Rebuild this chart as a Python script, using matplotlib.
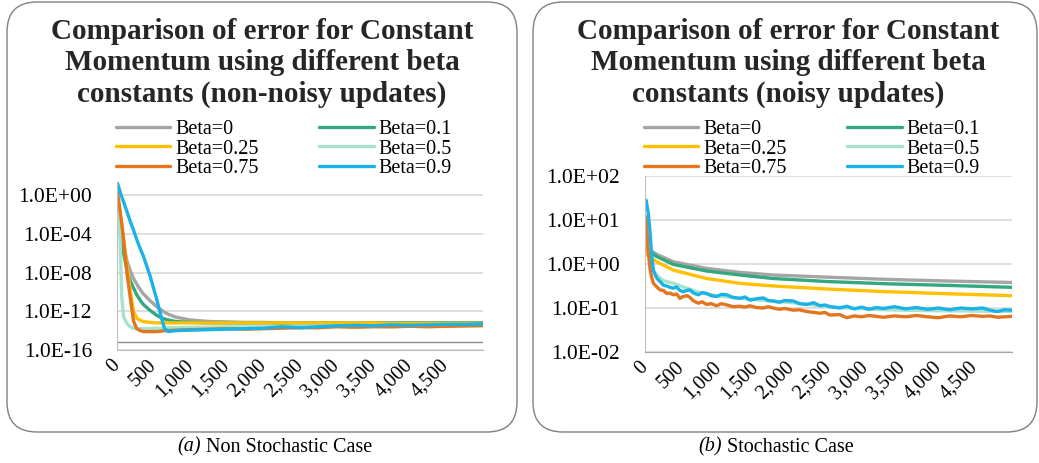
import numpy as np
import matplotlib
matplotlib.use("Agg")
import matplotlib.pyplot as plt
from matplotlib.patches import FancyBboxPatch
from matplotlib.transforms import IdentityTransform

plt.rcParams["font.family"] = ["Liberation Serif", "DejaVu Serif"]

# ---- data (log10 of the error) ----
series_names = ["Beta=0", "Beta=0.1", "Beta=0.25", "Beta=0.5", "Beta=0.75", "Beta=0.9"]
series_colors = ["#A5A5A5", "#33A87F", "#FFC000", "#A6E3CF", "#E4751F", "#1BB2E8"]

# (a) non-noisy updates
iters_a = [0, 40, 65, 90, 140, 180, 225, 270, 320, 360, 450, 540, 610, 650, 700, 800,
           1000, 1250, 1500, 1750, 2000, 2250, 2500, 2750, 3000, 3250, 3500, 3750,
           4000, 4250, 4500, 4750, 4999]
beta0_a = [0.3, -3.0, -4.4, -5.4, -6.9, -7.8, -8.6, -9.2, -9.8, -10.2, -10.9, -11.5,
           -11.9, -12.1, -12.3, -12.6, -12.9, -13.05, -13.1, -13.15, -13.15, -13.2,
           -13.2, -13.2, -13.2, -13.2, -13.2, -13.2, -13.2, -13.2, -13.2, -13.2, -13.2]
beta01_a = [0.2, -3.2, -4.8, -6.0, -7.9, -8.8, -9.6, -10.3, -10.9, -11.3, -11.9, -12.4,
            -12.7, -12.8, -12.9, -13.05, -13.15, -13.2, -13.2, -13.2, -13.2, -13.2,
            -13.2, -13.2, -13.2, -13.2, -13.2, -13.2, -13.2, -13.2, -13.2, -13.2, -13.2]
beta025_a = [0.5, -1.8, -3.0, -4.5, -7.5, -9.8, -12.0, -12.7, -12.95, -13.05, -13.15,
             -13.2, -13.2, -13.2, -13.2, -13.2, -13.2, -13.2, -13.2, -13.2, -13.2, -13.2,
             -13.2, -13.2, -13.2, -13.2, -13.2, -13.25, -13.25, -13.25, -13.25, -13.25, -13.25]
beta05_a = [-0.8, -4.3, -10.5, -12.6, -13.3, -13.6, -13.75, -13.8, -13.8, -13.8, -13.8,
            -13.75, -13.75, -13.7, -13.7, -13.7, -13.65, -13.65, -13.6, -13.6, -13.6,
            -13.6, -13.55, -13.55, -13.55, -13.55, -13.55, -13.6, -13.55, -13.55, -13.55,
            -13.55, -13.55]
beta075_a = [0.6, -1.5, -3.0, -4.6, -8.3, -10.5, -13.0, -13.8, -14.0, -14.1, -14.1, -14.1,
             -14.05, -14.0, -14.0, -13.95, -13.9, -13.85, -13.8, -13.85, -13.8, -13.75,
             -13.7, -13.7, -13.6, -13.65, -13.6, -13.6, -13.55, -13.6, -13.55, -13.5, -13.45]
beta09_a = [1.4, 0.4, -0.2, -0.7, -1.8, -2.7, -3.6, -4.6, -5.6, -6.3, -8.3, -10.7, -12.75,
            -13.8, -14.1, -14.0, -13.95, -13.9, -13.85, -13.8, -13.75, -13.6, -13.7, -13.6,
            -13.5, -13.45, -13.5, -13.4, -13.45, -13.4, -13.35, -13.35, -13.3]

# (b) noisy updates
iters_b_smooth = [0, 40, 160, 386, 840, 1294, 1748, 2500, 3300, 4200, 4999]
beta0_b = [0.75, 0.35, 0.22, 0.05, -0.10, -0.19, -0.25, -0.30, -0.35, -0.39, -0.42]
beta01_b = [0.7, 0.3, 0.17, -0.01, -0.16, -0.25, -0.33, -0.40, -0.45, -0.49, -0.53]
beta025_b = [0.65, 0.2, 0.05, -0.14, -0.33, -0.44, -0.50, -0.57, -0.63, -0.68, -0.72]

iters_b_mint = [0, 15, 45, 70, 90, 115, 160, 250, 386, 520, 726, 976, 1294, 1612, 2021,
                2384, 2750, 3250, 3850, 4450, 4999]
beta05_b = [0.9, 0.8, 0.4, 0.1, -0.05, -0.15, -0.25, -0.38, -0.44, -0.52, -0.64, -0.72,
            -0.78, -0.83, -0.88, -0.95, -1.0, -1.04, -1.06, -1.07, -1.08]

iters_b_noisy = [0, 15, 45, 70, 90, 115, 160, 205, 250, 295, 340, 386, 430, 475, 520, 570,
                 613, 660, 726, 780, 840, 900, 976, 1040, 1112, 1200, 1294, 1360, 1430,
                 1520, 1612, 1680, 1748, 1830, 1900, 2021, 2100, 2203, 2300, 2384, 2450,
                 2520, 2650, 2750, 2850, 2950, 3050, 3150, 3250, 3400, 3550, 3700, 3850,
                 4000, 4150, 4300, 4450, 4600, 4700, 4800, 4900, 4999]
beta075_b = [1.1, 1.0, 0.25, -0.12, -0.3, -0.44, -0.52, -0.59, -0.6, -0.67, -0.66, -0.7,
             -0.68, -0.78, -0.74, -0.72, -0.76, -0.84, -0.89, -0.86, -0.92, -0.9, -0.95,
             -0.9, -0.93, -0.97, -0.96, -0.98, -0.95, -0.99, -1.0, -0.97, -1.0, -1.03,
             -1.01, -1.05, -1.04, -1.08, -1.1, -1.12, -1.1, -1.16, -1.15, -1.22, -1.18,
             -1.2, -1.17, -1.19, -1.21, -1.18, -1.2, -1.17, -1.2, -1.22, -1.18, -1.2,
             -1.17, -1.19, -1.18, -1.21, -1.2, -1.19]
beta09_b = [1.35, 1.45, 1.15, 0.7, 0.2, -0.15, -0.32, -0.4, -0.48, -0.5, -0.53, -0.55,
            -0.52, -0.6, -0.63, -0.6, -0.59, -0.66, -0.7, -0.65, -0.67, -0.72, -0.74,
            -0.69, -0.7, -0.76, -0.78, -0.75, -0.82, -0.79, -0.77, -0.83, -0.84, -0.87,
            -0.83, -0.84, -0.9, -0.92, -0.88, -0.95, -0.93, -0.97, -1.0, -0.96, -1.02,
            -0.98, -1.03, -0.99, -1.01, -0.97, -1.02, -0.99, -1.03, -1.0, -1.04, -1.0,
            -1.02, -1.0, -1.05, -1.08, -1.04, -1.05]

xtick_values = [0, 500, 1000, 1500, 2000, 2500, 3000, 3500, 4000, 4500]
xtick_labels = ["0", "500", "1,000", "1,500", "2,000", "2,500", "3,000", "3,500", "4,000", "4,500"]
ytick_values_a = [1e0, 1e-4, 1e-8, 1e-12, 1e-16]
ytick_labels_a = ["1.0E+00", "1.0E-04", "1.0E-08", "1.0E-12", "1.0E-16"]
ytick_values_b = [1e2, 1e1, 1e0, 1e-1, 1e-2]
ytick_labels_b = ["1.0E+02", "1.0E+01", "1.0E+00", "1.0E-01", "1.0E-02"]

title_a = "Comparison of error for Constant\nMomentum using different beta\nconstants (non-noisy updates)"
title_b = "Comparison of error for Constant\nMomentum using different beta\nconstants (noisy updates)"

W, H = 1039, 463
fig = plt.figure(figsize=(W / 100, H / 100), dpi=100)

# rounded panel frames (pixel coordinates)
for x0, x1 in [(7, 517), (533, 1037)]:
    box = FancyBboxPatch((x0, 31), x1 - x0, 430,
                         boxstyle="round,pad=0,rounding_size=30",
                         transform=IdentityTransform(), facecolor="none",
                         edgecolor="#808080", linewidth=1.0)
    fig.add_artist(box)


def style_axis(ax, yvals, ylabels, ylim):
    ax.set_yscale("log")
    ax.set_ylim(*ylim)
    ax.set_xlim(0, 5000)
    ax.set_yticks(yvals)
    ax.set_yticklabels(ylabels)
    ax.minorticks_off()
    ax.set_xticks(xtick_values)
    ax.set_xticklabels(xtick_labels, rotation=45, ha="right", va="center",
                       rotation_mode="anchor")
    ax.tick_params(axis="y", length=0, pad=18, labelsize=15.5)
    ax.tick_params(axis="x", length=0, pad=9, labelsize=14.5)
    ax.grid(axis="y", color="#D9D9D9", linewidth=1.2)
    ax.set_axisbelow(True)
    for side in ["top", "right"]:
        ax.spines[side].set_visible(False)
    ax.spines["left"].set_color("#BFBFBF")
    ax.spines["bottom"].set_color("#BFBFBF")


# (a)
ax_a = fig.add_axes([117 / W, 113 / H, 366 / W, 168 / H])
ys_a = [beta0_a, beta01_a, beta025_a, beta05_a, beta075_a, beta09_a]
handles = []
for name, color, ys in zip(series_names, series_colors, ys_a):
    h, = ax_a.plot(iters_a, 10.0 ** np.array(ys), color=color, linewidth=2.4,
                   label=name, solid_capstyle="round")
    handles.append(h)
style_axis(ax_a, ytick_values_a, ytick_labels_a, (1e-16, 10 ** 1.35))
ax_a.axhline(10 ** -15.2, color="#8C8C8C", linewidth=1.0, zorder=0.5)

# (b)
ax_b = fig.add_axes([645 / W, 111 / H, 367 / W, 176 / H])
xs_b = [iters_b_smooth, iters_b_smooth, iters_b_smooth, iters_b_mint, iters_b_noisy, iters_b_noisy]
ys_b = [beta0_b, beta01_b, beta025_b, beta05_b, beta075_b, beta09_b]
for name, color, xs, ys in zip(series_names, series_colors, xs_b, ys_b):
    ax_b.plot(xs, 10.0 ** np.array(ys), color=color, linewidth=2.4, label=name,
              solid_capstyle="round")
style_axis(ax_b, ytick_values_b, ytick_labels_b, (1e-2, 1e2))
ax_b.spines["bottom"].set_color("#A6A6A6")

# titles
for cx, title in [(262, title_a), (788, title_b)]:
    fig.text(cx / W, 1 - 63 / H, title, ha="center", va="center", fontsize=21,
             fontweight="bold", color="#262626", linespacing=1.22)

# legends, filled row by row
order = [0, 2, 4, 1, 3, 5]
for cx in [284, 812]:
    fig.legend([handles[i] for i in order], [series_names[i] for i in order],
               loc="center", bbox_to_anchor=(cx / W, 1 - 149 / H), ncol=2,
               frameon=False, fontsize=14.5, handlelength=2.7, handletextpad=0.25,
               columnspacing=3.0, labelspacing=0.02, borderpad=0)

# captions
fig.text(201 / W, 16 / H, "(a)", style="italic", ha="right", va="center", fontsize=14.5)
fig.text(201 / W, 16 / H, " Non Stochastic Case", ha="left", va="center", fontsize=14.5)
fig.text(722 / W, 16 / H, "(b)", style="italic", ha="right", va="center", fontsize=14.5)
fig.text(722 / W, 16 / H, " Stochastic Case", ha="left", va="center", fontsize=14.5)

fig.savefig("out.png", dpi=100)
